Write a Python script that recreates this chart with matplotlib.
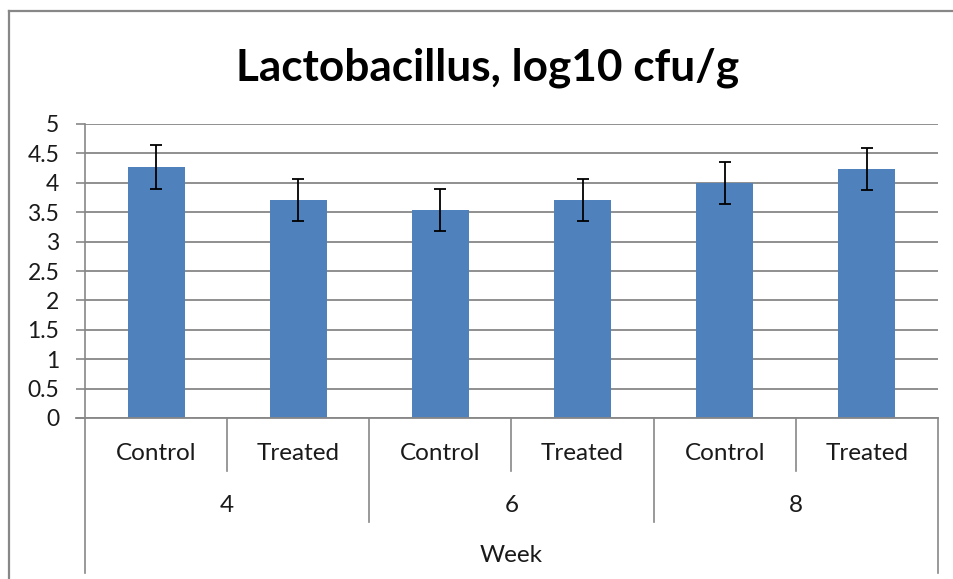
"""
Lactobacillus bar chart (log10 cfu/g) by week and group
"""
import matplotlib
matplotlib.use('Agg')
import matplotlib.pyplot as plt
from matplotlib.lines import Line2D
import numpy as np

# data
weeks = ['4', '6', '8']
groups = ['Control', 'Treated']
values = [4.27, 3.71, 3.54, 3.71, 4.00, 4.23]
errors = [0.37, 0.36, 0.36, 0.36, 0.36, 0.36]
yticks = [0, 0.5, 1, 1.5, 2, 2.5, 3, 3.5, 4, 4.5, 5]
ytick_labels = ['0', '0.5', '1', '1.5', '2', '2.5', '3', '3.5', '4', '4.5', '5']

plt.rcParams['font.family'] = ['Lato', 'DejaVu Sans']

W, H = 954, 579
fig = plt.figure(figsize=(W / 100, H / 100), dpi=100)

grid_col = '#878787'
bar_col = '#4F81BD'
txt_col = '#1a1a1a'
lab_size = 17.5

# plot area in pixels
x0, x1 = 85, 938
y_top, y_zero = 124, 418
ax = fig.add_axes([x0 / W, 1 - y_zero / H, (x1 - x0) / W, (y_zero - y_top) / H])

x = np.arange(len(values))
ax.bar(x, values, width=0.4, color=bar_col, zorder=3)
ax.errorbar(x, values, yerr=errors, fmt='none', ecolor='black',
            elinewidth=1.3, capsize=4.5, capthick=1.3, zorder=4)

ax.set_xlim(-0.5, len(values) - 0.5)
ax.set_ylim(0, 5)
ax.set_yticks(yticks)
ax.set_yticklabels(ytick_labels, fontsize=16.5, color=txt_col)
ax.tick_params(axis='y', length=6.5, color=grid_col, width=1.2, pad=12)
ax.set_xticks([])
ax.yaxis.grid(True, color=grid_col, linewidth=1.3, zorder=0)

for side in ['top', 'right', 'bottom']:
    ax.spines[side].set_visible(False)
ax.spines['left'].set_color(grid_col)
ax.spines['left'].set_linewidth(1.2)

# multi-level category axis below the plot
ah = y_zero - y_top
def fy(py):
    return -(py - y_zero) / ah

tr = ax.get_xaxis_transform()
ax.plot([-0.5 - 0.06, len(values) - 0.5], [0, 0], color=grid_col, lw=1.3,
        transform=tr, clip_on=False, zorder=5)

n_g = len(groups)
for i in range(len(values) + 1):
    xb = i - 0.5
    if i == 0 or i == len(values):
        yb = fy(573)
    elif i % n_g == 0:
        yb = fy(522)
    else:
        yb = fy(471)
    ax.plot([xb, xb], [0, yb], color=grid_col, lw=1.2, transform=tr, clip_on=False)

for i in range(len(values)):
    ax.text(i, fy(453), groups[i % n_g], transform=tr, ha='center', va='center',
            fontsize=lab_size, color=txt_col)

for k, wk in enumerate(weeks):
    xc = k * n_g + (n_g - 1) / 2
    ax.text(xc, fy(506), wk, transform=tr, ha='center', va='center',
            fontsize=lab_size, color=txt_col)

ax.text((len(values) - 1) / 2, fy(555), 'Week', transform=tr, ha='center',
        va='center', fontsize=lab_size, color=txt_col)

# title
fig.text(488 / W, 1 - 68 / H, 'Lactobacillus, log10 cfu/g', ha='center', va='center',
         fontsize=31.8, fontweight='bold', color='black')

# outer chart frame (cut off on right and bottom)
fig.add_artist(Line2D([9 / W, 9 / W], [0, 1 - 11 / H], color=grid_col, lw=1.6))
fig.add_artist(Line2D([9 / W, 1], [1 - 11 / H, 1 - 11 / H], color=grid_col, lw=1.6))

plt.savefig('out.png', dpi=100)
plt.close()
